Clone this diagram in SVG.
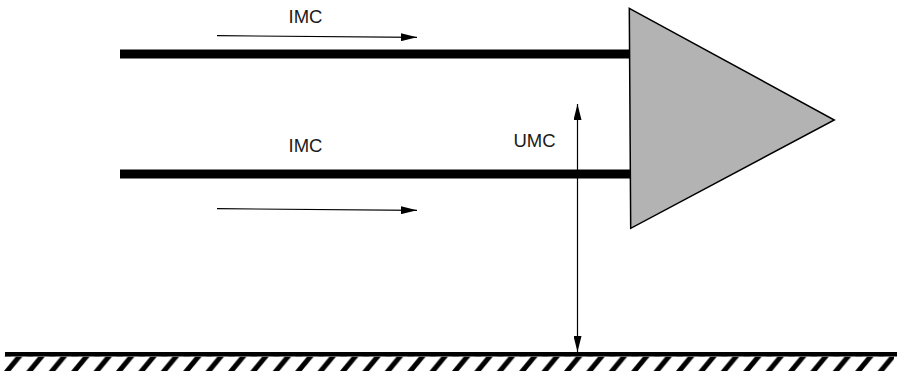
<svg xmlns="http://www.w3.org/2000/svg" width="898" height="371" viewBox="0 0 898 371">
  <style>
    .bar { stroke: #000; stroke-width: 9; fill: none; }
    .thin { stroke: #000; stroke-width: 1.2; fill: none; }
    .lbl { font-family: "Liberation Sans", Arial, sans-serif; font-size: 18.5px; fill: #1a1a1a; text-anchor: middle; }
  </style>
  <defs>
    <marker id="ah" viewBox="0 0 16 8" refX="16" refY="4" markerWidth="16" markerHeight="8" markerUnits="userSpaceOnUse" orient="auto-start-reverse">
      <path d="M0,0 L16,4 L0,8 Z" fill="#000"/>
    </marker>
    <pattern id="hatch" patternUnits="userSpaceOnUse" x="4" y="356.5" width="22.4" height="14.5">
      <polygon points="0,14.5 6.5,14.5 18.5,0 12,0" fill="#000"/>
    </pattern>
  </defs>

  <g id="ground">
    <line x1="5" y1="354.3" x2="897" y2="354.3" stroke="#000" stroke-width="4.5"/>
    <rect x="4" y="356.5" width="890" height="14.5" fill="url(#hatch)"/>
  </g>

  <g id="upper-wire">
    <line class="bar" x1="120" y1="54" x2="630" y2="54"/>
  </g>
  <g id="lower-wire">
    <line class="bar" x1="120" y1="174" x2="630" y2="174"/>
  </g>

  <g id="amplifier">
    <polygon points="629.3,8.3 834.3,120 630.7,228.3" fill="#b3b3b3" stroke="#000" stroke-width="1.5" stroke-linejoin="miter"/>
  </g>

  <g id="connectors">
    <line class="thin" x1="217" y1="35.7" x2="417" y2="37.3" marker-end="url(#ah)"/>
    <line class="thin" x1="217" y1="208.7" x2="417" y2="210.3" marker-end="url(#ah)"/>
    <line class="thin" x1="577.5" y1="104" x2="577.5" y2="352" marker-start="url(#ah)" marker-end="url(#ah)"/>
  </g>

  <g id="labels">
    <text class="lbl" x="305.5" y="23">IMC</text>
    <text class="lbl" x="305.5" y="152.3">IMC</text>
    <text class="lbl" x="534.5" y="146.5">UMC</text>
  </g>
</svg>
